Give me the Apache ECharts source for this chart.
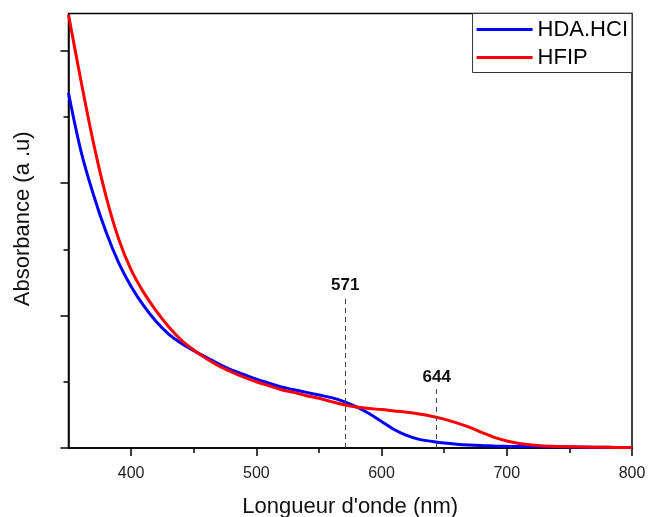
<!DOCTYPE html>
<html>
<head>
<meta charset="utf-8">
<script src="https://cdn.jsdelivr.net/npm/echarts@6/dist/echarts.min.js"></script>
<style>html,body{margin:0;padding:0;background:#fff}#c{width:650px;height:517px}</style>
</head>
<body>
<div id="c"></div>
<script>
var seriesNames = ['HDA.HCI', 'HFIP'];
var hdaX = [350, 360, 370, 380, 390, 400, 410, 420, 430, 440, 450, 460, 470, 480, 490, 500, 510, 520, 530, 540, 550, 560, 570, 580, 590, 600, 610, 620, 630, 640, 650, 660, 670, 680, 690, 700, 720, 740, 760, 780, 800];
var hdaY = [2.68, 2.24, 1.91, 1.63, 1.40, 1.22, 1.075, 0.955, 0.86, 0.79, 0.735, 0.685, 0.635, 0.59, 0.555, 0.52, 0.49, 0.46, 0.44, 0.42, 0.40, 0.38, 0.35, 0.31, 0.26, 0.20, 0.14, 0.095, 0.065, 0.05, 0.037, 0.028, 0.022, 0.018, 0.015, 0.013, 0.011, 0.009, 0.007, 0.005, 0.003];
var hfipX = [350, 360, 370, 380, 390, 400, 410, 420, 430, 440, 450, 460, 470, 480, 490, 500, 510, 520, 530, 540, 550, 560, 570, 580, 590, 600, 610, 620, 630, 640, 650, 660, 670, 680, 690, 700, 710, 720, 730, 740, 760, 780, 800];
var hfipY = [3.27, 2.77, 2.30, 1.90, 1.58, 1.345, 1.175, 1.035, 0.915, 0.815, 0.74, 0.675, 0.62, 0.575, 0.535, 0.50, 0.47, 0.44, 0.42, 0.395, 0.375, 0.35, 0.327, 0.31, 0.298, 0.29, 0.28, 0.27, 0.257, 0.24, 0.218, 0.19, 0.157, 0.118, 0.08, 0.053, 0.034, 0.022, 0.015, 0.011, 0.008, 0.005, 0.002];
var xMajorTicks = [400, 500, 600, 700, 800];
var xMinorTicks = [450, 550, 650, 750];
var yMajorTicks = [0, 1, 2, 3];
var yMinorTicks = [0.5, 1.5, 2.5];
var peakLabels = ['571', '644'];
var peakX = [571, 644];
var peakTopY = [1.14, 0.45];

function zip(xs, ys) { return xs.map(function (x, i) { return [x, ys[i]]; }); }

var font = "'Liberation Sans', Arial, sans-serif";
var chart = echarts.init(document.getElementById('c'));
var frame = { show: true, lineStyle: { color: '#000', width: 1.5 } };

function peakLine(i) {
  return [{ coord: [peakX[i], 0] }, { coord: [peakX[i], peakTopY[i]], label: { formatter: peakLabels[i] } }];
}

chart.setOption({
  animation: false,
  grid: { left: 68.5, right: 18, top: 13.5, bottom: 69, show: true, borderColor: '#000', borderWidth: 1.5, containLabel: false, outerBoundsMode: 'none' },
  legend: {
    right: 18, top: 13.5, orient: 'vertical',
    padding: [5, 4, 4, 4], itemGap: 6, itemWidth: 56, itemHeight: 3,
    borderColor: '#333', borderWidth: 1, backgroundColor: '#fff',
    textStyle: { fontFamily: font, fontSize: 22, color: '#000' },
    data: [{ name: seriesNames[0], icon: 'rect' }, { name: seriesNames[1], icon: 'rect' }]
  },
  xAxis: [{
    type: 'value', min: 350, max: 800, interval: 50,
    axisLine: frame,
    splitLine: { show: false },
    axisTick: { show: true, inside: false, length: 8, customValues: xMajorTicks, lineStyle: { color: '#000', width: 1.5 } },
    axisLabel: { customValues: xMajorTicks, fontFamily: font, fontSize: 16, color: '#222', margin: 18 },
    name: 'Longueur d\'onde (nm)', nameLocation: 'middle', nameGap: 47.5,
    nameTextStyle: { fontFamily: font, fontSize: 22, color: '#111' }
  }, {
    type: 'value', min: 350, max: 800, interval: 50, position: 'bottom',
    axisLine: { show: false }, splitLine: { show: false },
    axisTick: { show: true, inside: false, length: 5, customValues: xMinorTicks, lineStyle: { color: '#000', width: 1.5 } },
    axisLabel: { show: false }
  }],
  yAxis: [{
    type: 'value', min: 0, max: 3.28, interval: 0.5,
    axisLine: frame,
    splitLine: { show: false },
    axisTick: { show: true, inside: false, length: 8, customValues: yMajorTicks, lineStyle: { color: '#000', width: 1.5 } },
    axisLabel: { show: false },
    name: 'Absorbance (a .u)', nameLocation: 'middle', nameGap: 35, nameRotate: 90,
    nameTextStyle: { fontFamily: font, fontSize: 22, color: '#111', padding: [0, 0, 0, 24] }
  }, {
    type: 'value', min: 0, max: 3.28, interval: 0.5, position: 'left',
    axisLine: { show: false }, splitLine: { show: false },
    axisTick: { show: true, inside: false, length: 5, customValues: yMinorTicks, lineStyle: { color: '#000', width: 1.5 } },
    axisLabel: { show: false }
  }],
  series: [{
    name: seriesNames[0], type: 'line', smooth: 0.35, symbol: 'none',
    data: zip(hdaX, hdaY),
    lineStyle: { color: '#0000ff', width: 3 }, itemStyle: { color: '#0000ff' },
    markLine: {
      silent: true, symbol: ['none', 'none'],
      lineStyle: { color: '#444', width: 1, type: [5, 4] },
      label: { show: true, position: 'end', distance: 3, fontFamily: font, fontSize: 17, fontWeight: 'bold', color: '#111' },
      data: [peakLine(0), peakLine(1)]
    }
  }, {
    name: seriesNames[1], type: 'line', smooth: 0.35, symbol: 'none',
    data: zip(hfipX, hfipY),
    lineStyle: { color: '#ff0000', width: 3 }, itemStyle: { color: '#ff0000' }
  }]
});
</script>
</body>
</html>
